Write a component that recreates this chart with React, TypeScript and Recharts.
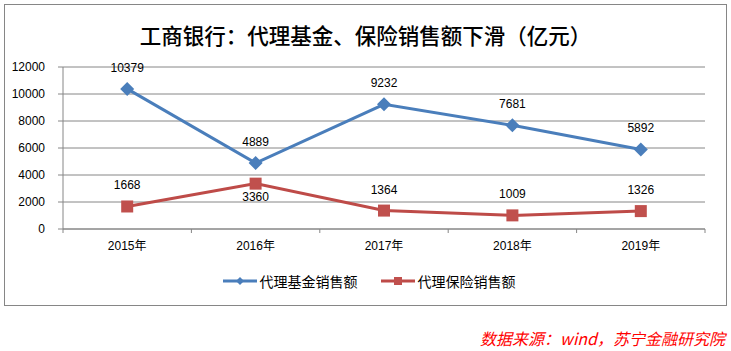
import { LineChart, Line, XAxis, YAxis, CartesianGrid, Legend } from 'recharts';

// 数据
const years = ['2015年', '2016年', '2017年', '2018年', '2019年'];
const fundSales = [10379, 4889, 9232, 7681, 5892];
const insuranceSales = [1668, 3360, 1364, 1009, 1326];
const yTicks = [0, 2000, 4000, 6000, 8000, 10000, 12000];
// 保险销售额标签放在点下方的年份
const insuranceLabelBelow = ['2016年'];

const chartData = years.map((year, i) => ({
  year,
  fund: fundSales[i],
  insurance: insuranceSales[i],
}));

const BLUE = '#4A7EBB';
const RED = '#BE4B48';
const GRID = '#868686';
const NUM_FONT = '"Liberation Sans", Arial, "Noto Sans CJK SC", sans-serif';
const CJK_FONT = '"Noto Sans CJK SC", "Liberation Sans", sans-serif';

const CHART_W = 721;
const CHART_H = 300;
const MARGIN = { top: 62, right: 21, left: 0, bottom: 46 };
const Y_WIDTH = 58;
const PLOT_W = CHART_W - Y_WIDTH - MARGIN.right;
const HALF_BAND = PLOT_W / years.length / 2;

const Diamond = ({ cx, cy, r = 7 }: any) => (
  <polygon
    points={`${cx},${cy - r} ${cx + r},${cy} ${cx},${cy + r} ${cx - r},${cy}`}
    fill={BLUE}
  />
);

const Square = ({ cx, cy, s = 6 }: any) => (
  <rect x={cx - s} y={cy - s} width={s * 2} height={s * 2} fill="#C0504D" />
);

// 类目轴：刻度线画在类目之间
const XTick = (props: any) => {
  const { x, y, payload, index } = props;
  return (
    <g>
      <line x1={x - HALF_BAND} x2={x - HALF_BAND} y1={y} y2={y + 4} stroke={GRID} />
      {index === years.length - 1 && (
        <line x1={x + HALF_BAND} x2={x + HALF_BAND} y1={y} y2={y + 4} stroke={GRID} />
      )}
      <text x={x} y={y + 21} textAnchor="middle" fill="#000" fontSize={12} fontFamily={NUM_FONT}>
        {payload.value}
      </text>
    </g>
  );
};

const renderLegend = () => (
  <div
    style={{
      display: 'flex',
      justifyContent: 'center',
      alignItems: 'center',
      fontFamily: CJK_FONT,
      fontSize: 14,
      color: '#000',
      gap: 22,
      paddingLeft: 6,
    }}
  >
    <div style={{ display: 'flex', alignItems: 'center' }}>
      <svg width={36} height={12}>
        <line x1={1} x2={35} y1={6} y2={6} stroke={BLUE} strokeWidth={3} />
        <Diamond cx={18} cy={6} r={4} />
      </svg>
      <span style={{ marginLeft: 2 }}>代理基金销售额</span>
    </div>
    <div style={{ display: 'flex', alignItems: 'center' }}>
      <svg width={36} height={12}>
        <line x1={1} x2={35} y1={6} y2={6} stroke={RED} strokeWidth={3} />
        <Square cx={18} cy={6} s={4} />
      </svg>
      <span style={{ marginLeft: 2 }}>代理保险销售额</span>
    </div>
  </div>
);

const fundLabel = (p: any) => (
  <text
    key={`fl-${p.index}`}
    x={p.x}
    y={p.y - 17}
    textAnchor="middle"
    fill="#000"
    fontSize={12}
    fontFamily={NUM_FONT}
  >
    {p.value}
  </text>
);

const insuranceLabel = (p: any) => {
  const below = insuranceLabelBelow.includes(years[p.index]);
  return (
    <text
      key={`il-${p.index}`}
      x={p.x}
      y={below ? p.y + 17 : p.y - 17}
      textAnchor="middle"
      fill="#000"
      fontSize={12}
      fontFamily={NUM_FONT}
    >
      {p.value}
    </text>
  );
};

export default function App() {
  return (
    <div style={{ position: 'absolute', left: 0, top: 0, width: 731, height: 351, background: '#fff' }}>
      <div
        style={{
          position: 'absolute',
          left: 4,
          top: 4,
          width: CHART_W,
          height: CHART_H,
          border: `1px solid ${GRID}`,
        }}
      >
        <div
          style={{
            position: 'absolute',
            left: 0,
            top: 17,
            width: '100%',
            textAlign: 'center',
            fontFamily: CJK_FONT,
            fontSize: 21.5,
            fontWeight: 500,
            color: '#000',
            lineHeight: '26px',
          }}
        >
          工商银行：代理基金、保险销售额下滑（亿元）
        </div>
        <LineChart width={CHART_W} height={CHART_H} data={chartData} margin={MARGIN}>
          <CartesianGrid horizontal vertical={false} stroke={GRID} strokeWidth={1} />
          <XAxis
            dataKey="year"
            interval={0}
            tickLine={false}
            tickSize={0}
            tickMargin={0}
            height={30}
            padding={{ left: HALF_BAND, right: HALF_BAND }}
            axisLine={{ stroke: GRID }}
            tick={<XTick />}
          />
          <YAxis
            domain={[0, 12000]}
            ticks={yTicks}
            interval={0}
            width={Y_WIDTH}
            tickSize={5}
            tickMargin={13}
            axisLine={{ stroke: GRID }}
            tickLine={{ stroke: GRID }}
            tick={{ fill: '#000', fontSize: 12, fontFamily: NUM_FONT }}
          />
          <Legend
            verticalAlign="middle"
            align="center"
            layout="horizontal"
            content={renderLegend}
            wrapperStyle={{ top: 266, left: 0, width: CHART_W }}
          />
          <Line
            dataKey="fund"
            stroke={BLUE}
            strokeWidth={3}
            isAnimationActive={false}
            dot={(p: any) => <Diamond key={`d-${p.index}`} cx={p.cx} cy={p.cy} />}
            activeDot={false}
            label={fundLabel}
          />
          <Line
            dataKey="insurance"
            stroke={RED}
            strokeWidth={3}
            isAnimationActive={false}
            dot={(p: any) => <Square key={`s-${p.index}`} cx={p.cx} cy={p.cy} />}
            activeDot={false}
            label={insuranceLabel}
          />
        </LineChart>
      </div>
      <div
        style={{
          position: 'absolute',
          right: 6,
          top: 329,
          fontFamily: CJK_FONT,
          fontSize: 16,
          fontStyle: 'italic',
          color: '#FF0000',
          lineHeight: '18px',
          whiteSpace: 'nowrap',
        }}
      >
        数据来源：wind，苏宁金融研究院
      </div>
    </div>
  );
}
